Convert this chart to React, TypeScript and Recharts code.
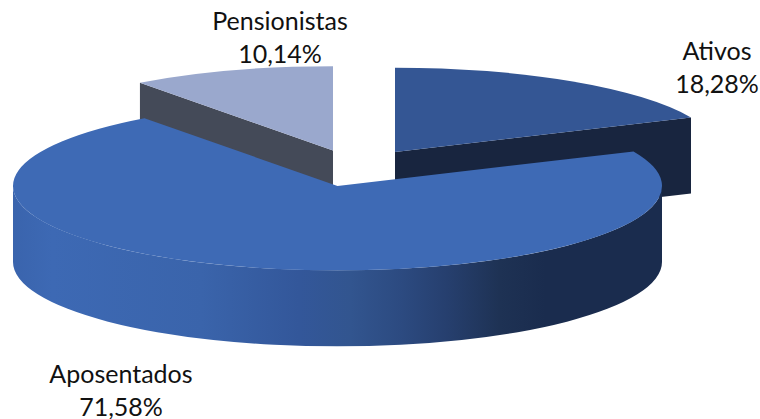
import React from 'react';
import { PieChart, Pie } from 'recharts';

// drawn back to front, so Aposentados sits over the walls of the other two
const categories = ['Pensionistas', 'Ativos', 'Aposentados'];
const shares = [10.14, 18.28, 71.58];

const TILT = 0.26; // squash of the pie into an ellipse
const DEPTH = 76;
const FONT = 'Lato, sans-serif';

const topColors: Record<string, string> = { Pensionistas: '#9aa8cd', Ativos: '#345694', Aposentados: '#3e6ab5' };
const cutColors: Record<string, string> = { Pensionistas: '#444a58', Ativos: '#18253f', Aposentados: '#18253f' };
const explode: Record<string, [number, number]> = { Pensionistas: [-4.5, -35.5], Ativos: [57.5, -34], Aposentados: [0, 0] };
const labelPos: Record<string, [number, number]> = { Pensionistas: [280, 30], Ativos: [717, 60], Aposentados: [121, 383] };

const rows = categories.map((name, i) => ({ name, value: shares[i], fill: topColors[name] }));

const rad = (deg: number) => (deg * Math.PI) / 180;

function EllipseSlice(props: any) {
  const { cx, cy, outerRadius: rx, startAngle, endAngle, name } = props;
  const ry = rx * TILT;
  const [dx, dy] = explode[name];
  const ax = cx + dx;
  const ay = cy + dy;
  // clockwise from 12 o'clock, easier for the ellipse
  const t0 = 90 - startAngle;
  const t1 = 90 - endAngle;
  const rim = (t: number, drop = 0) =>
    `${ax + rx * Math.sin(rad(t))} ${ay - ry * Math.cos(rad(t)) + drop}`;
  const large = t1 - t0 > 180 ? 1 : 0;
  const top = `M${ax} ${ay} L${rim(t0)} A${rx} ${ry} 0 ${large} 1 ${rim(t1)} Z`;
  const cut = (t: number) => `M${ax} ${ay} L${rim(t)} L${rim(t, DEPTH)} L${ax} ${ay + DEPTH} Z`;

  const from = Math.max(t0, 90);
  const to = Math.min(t1, 270);
  return (
    <g>
      {Math.sin(rad(t1)) > 0.01 && <path d={cut(t1)} fill={cutColors[name]} />}
      {Math.sin(rad(t0)) < -0.01 && <path d={cut(t0)} fill={cutColors[name]} />}
      {to > from && (
        <path
          d={`M${rim(from)} A${rx} ${ry} 0 0 1 ${rim(to)} L${rim(to, DEPTH)} A${rx} ${ry} 0 0 0 ${rim(from, DEPTH)} Z`}
          fill="url(#wallShade)"
        />
      )}
      <path d={top} fill={topColors[name]} />
    </g>
  );
}

function SliceLabel(props: any) {
  const { name, value } = props;
  const [x, y] = labelPos[name];
  return (
    <text x={x} y={y} textAnchor="middle" fontFamily={FONT} fontSize={25} fill="#111">
      <tspan x={x}>{name}</tspan>
      <tspan x={x} dy={32.5}>{value.toFixed(2).replace('.', ',')}%</tspan>
    </text>
  );
}

export default function App() {
  const startAngle = 90 + (shares[0] / 100) * 360;
  return (
    <div style={{ position: 'absolute', left: 0, top: 0, width: 760, height: 419, background: '#fff' }}>
      <PieChart width={760} height={419} margin={{ top: 0, right: 0, bottom: 0, left: 0 }}>
        <defs>
          <linearGradient id="wallShade" x1="0" y1="0" x2="1" y2="0">
            <stop offset="0%" stopColor="#3a64ad" />
            <stop offset="6%" stopColor="#3d69b4" />
            <stop offset="29%" stopColor="#3a64ab" />
            <stop offset="44%" stopColor="#33579a" />
            <stop offset="52%" stopColor="#32558f" />
            <stop offset="60%" stopColor="#2c4a80" />
            <stop offset="67%" stopColor="#263f6e" />
            <stop offset="75%" stopColor="#1e3254" />
            <stop offset="82%" stopColor="#1a2c4e" />
            <stop offset="100%" stopColor="#1a2c4e" />
          </linearGradient>
        </defs>
        <Pie
          data={rows}
          dataKey="value"
          nameKey="name"
          cx={337.5}
          cy={186}
          innerRadius={0}
          outerRadius={324.5}
          startAngle={startAngle}
          endAngle={startAngle - 360}
          stroke="none"
          shape={EllipseSlice}
          label={SliceLabel}
          labelLine={false}
          isAnimationActive={false}
        />
      </PieChart>
    </div>
  );
}
